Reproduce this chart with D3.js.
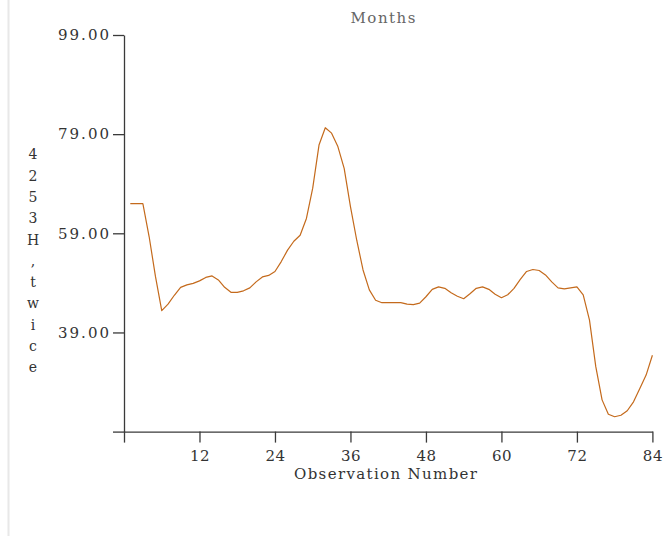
<!DOCTYPE html>
<html>
<head>
<meta charset="utf-8">
<script src="https://cdn.jsdelivr.net/npm/d3@7"></script>
<style>
  html, body { margin: 0; padding: 0; background: #fff; }
  svg { display: block; }
  text { font-family: "DejaVu Serif", serif; }
</style>
</head>
<body>
<script>
// Series: monthly observations 1..84
const observations = d3.range(1, 85);
const values = [
  65.0, 65.0, 65.0, 58.3, 50.3, 43.4, 44.7, 46.5, 48.1, 48.6,
  48.9, 49.4, 50.1, 50.4, 49.6, 48.1, 47.1, 47.1, 47.4, 48.0,
  49.2, 50.2, 50.5, 51.3, 53.3, 55.6, 57.4, 58.6, 62.0, 68.1,
  76.8, 80.3, 79.2, 76.5, 72.1, 64.4, 57.6, 51.6, 47.6, 45.5,
  45.0, 45.0, 45.0, 45.0, 44.7, 44.6, 44.9, 46.2, 47.7, 48.2,
  47.9, 47.0, 46.3, 45.8, 46.8, 47.9, 48.2, 47.7, 46.7, 46.0,
  46.6, 47.9, 49.7, 51.3, 51.7, 51.5, 50.6, 49.2, 48.0, 47.8,
  48.0, 48.2, 46.6, 41.5, 32.1, 25.4, 22.5, 22.0, 22.3, 23.2,
  25.0, 27.7, 30.4, 34.4
];
const xTicks = [0, 12, 24, 36, 48, 60, 72, 84];
const yTicks = [19, 39, 59, 79, 99];
const titleText = "Months";
const xTitle = "Observation Number";
const yTitle = "4253H,twice";

const W = 669, H = 536;
const svg = d3.select("body").append("svg").attr("width", W).attr("height", H);
svg.append("rect").attr("width", W).attr("height", H).attr("fill", "#fff");

// faint frame edge on the left
svg.append("line").attr("x1", 8.5).attr("x2", 8.5).attr("y1", 0).attr("y2", H)
  .attr("stroke", "#e8e8e8").attr("stroke-width", 2);

const x = d3.scaleLinear().domain([0, 84]).range([124, 652.4]);
const y = d3.scaleLinear().domain([19, 99]).range([431.6, 35]);

const axisColor = "#3a3a3a";
const textColor = "#333";

// x axis
const gx = svg.append("g").attr("transform", `translate(0,${y(19)})`)
  .call(d3.axisBottom(x).tickValues(xTicks).tickSize(11).tickSizeOuter(0).tickPadding(8)
    .tickFormat(d => d === 0 ? "" : d));
gx.select(".domain").attr("stroke", axisColor).attr("stroke-width", 1.3);
gx.selectAll(".tick line").attr("stroke", axisColor).attr("stroke-width", 1.3);
gx.selectAll(".tick text").attr("font-family", "DejaVu Serif").attr("font-size", 15)
  .attr("fill", textColor).attr("letter-spacing", "0.5px");

// y axis
const gy = svg.append("g").attr("transform", `translate(${x(0)},0)`)
  .call(d3.axisLeft(y).tickValues(yTicks).tickSize(11).tickSizeOuter(0).tickPadding(4)
    .tickFormat(d => d === 19 ? "" : d.toFixed(2)));
gy.select(".domain").attr("stroke", axisColor).attr("stroke-width", 1.3);
gy.selectAll(".tick line").attr("stroke", axisColor).attr("stroke-width", 1.3);
gy.selectAll(".tick text").attr("font-family", "DejaVu Serif").attr("font-size", 15)
  .attr("fill", textColor)
  .each(function(d) { if (d !== 19) d3.select(this).attr("textLength", 51).attr("lengthAdjust", "spacing"); });

// the extension of the y axis below the x axis (x = 0 tick) and x axis left of y axis
// are drawn by the axes' own first ticks

// title
svg.append("text").attr("x", 383).attr("y", 22.7).attr("text-anchor", "middle")
  .attr("font-size", 15).attr("fill", "#666")
  .attr("textLength", 65).attr("lengthAdjust", "spacing").text(titleText);

// x axis title
svg.append("text").attr("x", 385.5).attr("y", 479).attr("text-anchor", "middle")
  .attr("font-size", 15).attr("fill", textColor)
  .attr("textLength", 183).attr("lengthAdjust", "spacing").text(xTitle);

// y axis title, one character per line
const yt = svg.append("g");
yTitle.split("").forEach((ch, i) => {
  yt.append("text").attr("x", 33).attr("y", 159.3 + 21.3 * i).attr("text-anchor", "middle")
    .attr("font-size", 14).attr("fill", textColor).text(ch);
});

// series line
const line = d3.line().x((d, i) => x(observations[i])).y(d => y(d));
svg.append("path").datum(values).attr("d", line)
  .attr("fill", "none").attr("stroke", "#c46a1c").attr("stroke-width", 1.2)
  .attr("stroke-linejoin", "round");
</script>
</body>
</html>
